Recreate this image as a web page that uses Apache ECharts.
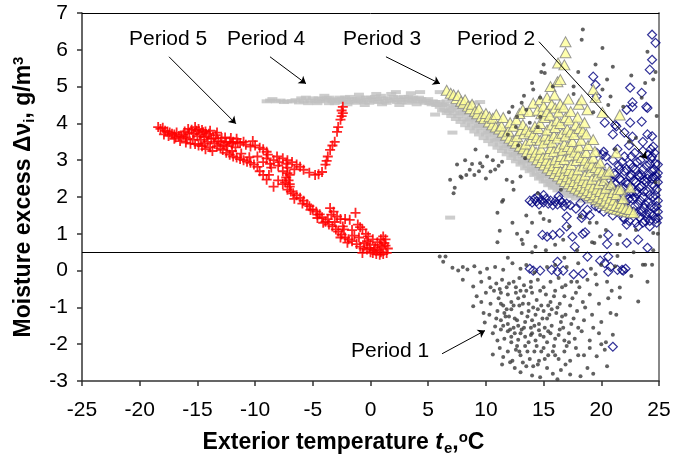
<!DOCTYPE html>
<html>
<head>
<meta charset="utf-8">
<script src="https://cdn.jsdelivr.net/npm/echarts@6/dist/echarts.min.js"></script>
<style>
  html, body { margin: 0; padding: 0; background: #fff; }
  #chart { width: 687px; height: 461px; }
</style>
</head>
<body>
<div id="chart"></div>
<script>
// axis ticks
var xTicks = [-25, -20, -15, -10, -5, 0, 5, 10, 15, 20, 25];
var yTicks = [-3, -2, -1, 0, 1, 2, 3, 4, 5, 6, 7];
var refLevel = 0.5;

// Period 1 - dark dots
var period1 = [
  [7.1,0.08],[7.6,0.0],[8.0,0.1],[8.4,0.03],[9.0,0.12],[9.5,-0.05],[10.1,0.05],[10.8,0.1],[11.5,0.02],[12.3,0.2],
  [13.0,0.05],[13.5,0.15],[14.2,-0.05],[15.3,0.1],[16.0,0.15],[17.0,0.1],[18.0,0.2],[19.1,0.05],[20.0,0.15],[21.2,0.12],
  [23.6,0.16],[24.4,0.16],[24.0,-0.3],[22.6,-0.15],
  [8.0,-0.25],[8.9,-0.43],[9.6,-0.3],[10.3,-0.2],[10.9,-0.35],[11.4,-0.25],[11.8,-0.45],[12.4,-0.3],[12.9,-0.2],[13.3,-0.4],
  [13.9,-0.3],[14.5,-0.25],[15.0,-0.45],[15.6,-0.3],[16.3,-0.2],[16.9,-0.4],[17.4,-0.3],[18.1,-0.45],[18.8,-0.25],[19.6,-0.38],
  [20.5,-0.3],[21.6,-0.46],[21.6,-0.73],[23.2,-0.84],
  [9.2,-0.7],[8.9,-0.97],[9.6,-0.85],[10.0,-0.6],[10.4,-0.9],[10.7,-0.55],[11.1,-0.75],[11.5,-0.95],[11.9,-0.65],[12.2,-0.85],
  [12.6,-0.6],[12.9,-0.95],[13.3,-0.7],[13.7,-0.9],[14.0,-0.6],[14.4,-0.8],[14.8,-0.95],[15.2,-0.65],[15.6,-0.85],[16.0,-0.55],
  [16.4,-0.9],[16.8,-0.7],[17.3,-0.95],[17.8,-0.6],[18.4,-0.85],[19.0,-0.65],[19.8,-0.9],[20.6,-0.75],[13.5,-0.55],[11.3,-0.6],[12.8,-0.75],
  [9.9,-1.41],[10.3,-1.2],[10.8,-1.52],[11.0,-1.1],[11.3,-1.35],[11.6,-1.15],[11.9,-1.45],[12.2,-1.05],[12.5,-1.3],[12.8,-1.5],
  [13.1,-1.15],[13.4,-1.4],[13.7,-1.1],[14.0,-1.35],[14.3,-1.2],[14.6,-1.45],[15.0,-1.1],[15.3,-1.3],[15.7,-1.5],[16.1,-1.15],
  [16.5,-1.4],[16.9,-1.2],[17.4,-1.45],[17.9,-1.1],[18.5,-1.35],[19.2,-1.2],[20.0,-1.4],[20.8,-1.15],[12.0,-1.25],[13.9,-1.55],[15.5,-1.2],
  [10.6,-1.7],[11.0,-1.9],[11.3,-1.6],[11.6,-1.85],[11.9,-1.65],[12.2,-1.95],[12.5,-1.7],[12.8,-1.88],[13.1,-1.6],[13.4,-1.8],
  [13.7,-1.95],[14.0,-1.7],[14.3,-1.9],[14.6,-1.62],[15.0,-1.8],[15.3,-1.95],[15.6,-1.7],[16.0,-1.85],[16.4,-1.6],[16.8,-1.9],
  [17.2,-1.7],[17.7,-1.85],[18.3,-1.65],[19.0,-1.9],[19.8,-1.7],[21.0,-1.74],[20.4,-1.95],
  [10.6,-2.28],[11.2,-2.1],[11.5,-2.35],[11.9,-2.2],[12.3,-2.45],[12.6,-2.15],[13.0,-2.3],[13.4,-2.05],[13.8,-2.4],[14.2,-2.2],
  [14.6,-2.45],[15.0,-2.1],[15.4,-2.3],[15.9,-2.05],[16.3,-2.4],[16.8,-2.2],[17.3,-2.45],[17.8,-2.1],[18.5,-2.3],[19.6,-2.33],
  [20.3,-2.15],[12.1,-2.49],[11.4,-2.55],
  [13.0,-2.76],[13.5,-2.6],[14.0,-2.85],[14.7,-2.9],[15.3,-2.65],[15.8,-2.8],[16.5,-2.7],[17.3,-2.82],[18.2,-2.87],[18.8,-2.65],
  [20.5,-2.6],[12.5,-2.65],[14.5,-2.55],[16.2,-2.95],
  [11.2,-0.5],[11.7,-1.25],[12.4,-1.55],[12.7,-2.05],[13.2,-0.9],[13.6,-1.25],[14.1,-1.0],[14.4,-2.05],[14.9,-1.3],[15.4,-0.95],
  [15.8,-2.2],[16.2,-1.0],[16.7,-1.55],[12.0,-0.35],[13.0,-1.7],[14.7,-1.75],[11.5,-1.5],[12.9,-2.2],[13.9,-0.45],[15.1,-2.4],
  [16.6,-0.45],[17.6,-1.3],[18.0,-2.3],[17.0,-2.05],
  [11.3,-0.9],[11.8,-1.05],[12.1,-1.6],[12.4,-0.95],[12.7,-1.35],[13.0,-0.55],[13.3,-1.55],[13.6,-2.2],[13.9,-1.75],[14.2,-1.5],
  [14.5,-1.05],[14.8,-2.2],[15.1,-1.55],[15.4,-1.65],[15.7,-1.05],[16.0,-2.3],[16.3,-1.75],[16.6,-1.25],[16.9,-2.55],[17.2,-1.95],
  [17.5,-0.75],[18.0,-1.55],[18.6,-1.0],[19.3,-1.55],[19.0,-2.1],[12.2,-1.8],[13.2,-2.5],[14.1,-2.6],[10.9,-1.3],[10.4,-0.45],
  [9.8,-1.15],[12.6,-0.45],[14.7,-0.55],[15.9,-0.7],[17.9,-0.3],[19.5,-0.1],[20.9,-0.55],[21.3,-1.2],[20.0,-2.0],[19.3,-2.8],
  [6.0,0.38],[6.5,0.38],[6.3,0.24],[11.0,0.77],[11.2,1.08],[13.2,0.72],[13.6,1.05],[11.9,0.35],[14.0,0.5],[15.2,0.55],
  [16.0,0.7],[16.8,0.35],[17.9,0.55],[19.4,0.75],[21.4,0.4],[22.8,0.5],[24.5,0.55],[23.0,1.1],[19.0,1.3],[17.2,1.2],
  [15.5,1.35],[14.0,1.3],[12.3,1.3],[13.1,0.84],[14.3,0.65],[16.7,0.84],[19.2,0.77],[19.9,0.93],[21.4,0.72],[21.6,0.97],
  [24.5,1.02],[23.8,0.16],
  [7.5,2.88],[6.9,2.47],[7.3,2.25],[8.6,2.74],[9.7,2.83],[10.6,3.0],[11.4,2.96],[9.1,3.29],[11.8,2.47],[13.0,2.56],
  [11.4,1.87],[11.0,1.57],[10.1,3.1],[10.4,2.69],[7.9,2.52],[8.3,2.6],[8.8,2.9],[9.4,2.7],[10.0,2.5],[10.8,2.75],
  [11.1,2.85],[9.0,2.6],[7.2,2.1],[12.4,2.2],[13.5,1.5],[12.7,1.0],[14.5,2.1],[7.8,2.56],[8.2,3.0],[9.5,2.92],
  [12.3,2.41],[11.5,1.92],[14.7,1.57],[18.2,1.47],
  [18.4,6.55],[18.3,6.27],[20.1,6.05],[24.0,5.95],[15.0,5.6],[14.8,5.4],[15.1,5.37],[14.0,5.1],[14.1,4.92],[14.7,4.7],
  [12.3,4.45],[13.1,4.56],[13.5,4.37],[12.7,4.18],[13.8,4.02],[15.8,5.0],[21.0,5.54],[20.5,5.19],[20.1,4.92],[24.7,5.4],
  [24.5,5.19],[21.9,4.45],[23.8,5.1],[23.5,4.7],[20.8,4.73],[13.3,4.75],[12.0,4.3],[17.6,5.0],[18.0,5.4],[19.5,5.6],
  [20.6,4.5],[22.6,5.3],[24.8,4.2],[22.4,3.5],[19.3,4.3],[17.6,4.8],[21.2,3.3],[23.0,3.6],[24.7,2.4],[24.9,1.0],
  [16.5,2.2],[19.6,1.3],[12.8,3.4],[13.4,3.05],[11.9,3.7],[14.5,3.9],[15.0,1.4],[20.4,1.1],[14.7,4.18],[12.6,3.9]
];

// Period 2 - open diamonds
var period2 = [
  [13.8,1.9],[14.0,1.85],[14.2,1.95],[14.4,1.88],[14.6,1.8],[14.8,1.92],[15.0,1.85],[15.2,1.95],[15.4,1.82],[15.6,1.9],
  [15.8,1.78],[16.0,1.88],[16.2,1.8],[16.4,1.92],[16.6,1.85],[16.8,1.75],[17.0,1.82],[17.3,1.78],[15.0,2.05],[14.5,2.02],[16.3,2.02],
  [14.9,0.97],[15.3,0.92],[15.8,0.97],[16.4,1.02],[17.5,0.92],[18.4,1.0],[17.7,0.65],[20.6,0.97],[20.5,0.72],[22.2,0.75],
  [23.2,0.84],[24.0,0.62],[18.8,0.38],[19.9,0.27],[20.6,0.38],[20.3,0.2],[20.8,0.1],[20.6,-0.03],[16.2,0.24],[13.8,0.05],
  [14.1,0.0],[14.7,0.0],[15.7,0.02],[16.2,-0.03],[16.7,0.0],[17.6,-0.1],[18.4,-0.08],[21.4,0.02],[21.8,0.02],[22.1,0.05],
  [21.9,0.0],[17.0,1.2],[18.6,1.04],[23.6,1.3],[21.0,-2.07],
  [19.6,2.4],[19.8,2.1],[20.0,2.6],[20.2,2.3],[20.3,1.95],[20.5,2.8],[20.6,2.5],[20.8,2.15],[20.9,1.8],[21.0,3.0],
  [21.1,2.65],[21.2,2.35],[21.3,2.0],[21.4,1.6],[21.5,2.85],[21.6,2.5],[21.7,2.2],[21.8,1.85],[21.9,1.45],[22.0,3.1],
  [22.0,2.7],[22.1,2.4],[22.2,2.05],[22.3,1.7],[22.4,1.35],[22.5,2.9],[22.5,2.55],[22.6,2.25],[22.7,1.95],[22.8,1.6],
  [22.9,3.2],[23.0,2.75],[23.0,2.4],[23.1,2.1],[23.2,1.8],[23.3,1.45],[23.4,3.0],[23.5,2.6],[23.5,2.3],[23.6,2.0],
  [23.7,1.7],[23.8,1.35],[23.9,2.85],[24.0,2.5],[24.0,2.15],[24.1,1.85],[24.2,1.55],[24.3,3.05],[24.4,2.7],[24.4,2.35],
  [24.5,2.0],[24.6,1.7],[24.7,1.4],[24.7,2.9],[24.8,2.55],[24.8,2.2],[24.9,1.9],[24.9,1.6],[24.9,2.88],[24.6,3.2],
  [24.3,3.3],[23.6,3.25],[22.4,3.4],[21.4,3.3],[20.4,3.1],[24.8,1.3],[24.2,1.2],[23.2,1.2],[22.2,1.25],[21.0,1.5],
  [20.2,1.6],[19.5,1.75],[18.8,1.65],[18.2,1.84],[19.0,1.5],[17.8,1.68],[18.4,1.52],[17.0,1.47],[18.3,1.43],[24.9,1.43],
  [21.8,2.95],[23.3,2.55],[24.2,2.9],[22.9,2.0],[23.9,1.55],[21.5,1.95],[22.6,2.6],[23.7,2.45],[24.5,2.55],[20.8,2.45],
  [20.0,1.85],[20.3,2.15],[20.5,2.45],[20.7,1.9],[20.9,2.3],[21.1,1.95],[21.2,2.6],[21.4,2.2],[21.5,1.75],[21.7,2.45],
  [21.8,2.05],[21.9,1.6],[22.0,2.25],[22.1,1.85],[22.2,2.75],[22.3,2.35],[22.4,1.95],[22.5,1.55],[22.6,2.1],[22.7,2.8],
  [22.8,2.45],[22.9,1.75],[23.0,2.15],[23.1,1.55],[23.2,2.6],[23.3,2.25],[23.4,1.9],[23.5,1.6],[23.6,2.75],[23.7,2.15],
  [23.8,1.8],[23.9,2.4],[24.0,1.45],[24.1,2.6],[24.2,2.05],[24.3,1.75],[24.4,2.5],[24.5,1.5],[24.6,2.3],[24.7,2.05],
  [24.8,1.75],[24.9,2.4],[24.6,2.75],[24.1,3.15],[23.1,2.95],[22.6,3.1],[21.6,2.75],[20.6,2.2],[20.1,2.0],[19.8,1.7],
  [21.2,1.8],[22.0,1.4],[23.0,1.3],[24.2,1.35],
  [19.3,5.27],[19.5,5.05],[22.5,4.97],[23.5,4.83],[22.7,4.45],[23.9,4.45],[23.5,4.05],[22.5,4.02],[20.3,4.02],[21.3,3.92],
  [21.0,3.7],[22.0,3.75],[22.7,3.64],[24.0,3.7],[19.6,3.2],[20.1,3.15],[24.5,3.37],[18.8,2.74],[24.4,3.1],[24.4,6.41],
  [24.7,6.19],[24.4,5.73],[24.2,5.46],[19.6,4.73],[22.7,4.57],[24.0,4.42],[21.2,3.96],[23.6,3.5],[19.6,2.83],[22.2,4.37],
  [24.4,3.65],[24.9,2.65],[20.2,3.23]
];

// Period 3 - yellow triangles
var period3 = [
  [6.6,4.9],[6.95,4.82],[7.2,4.78],[7.45,4.68],[7.6,4.76],[7.85,4.6],[8.05,4.55],[8.2,4.64],[8.45,4.47],[8.65,4.4],
  [8.8,4.52],[9.05,4.33],[9.25,4.26],[9.4,4.4],[9.6,4.18],[9.85,4.13],[10.0,4.27],[10.25,4.04],[10.3,4.18],[10.55,3.96],
  [10.6,4.14],[10.85,3.9],[10.9,4.24],[11.15,3.85],[11.45,3.76],[11.35,3.93],[11.5,4.16],[11.75,3.68],
  [12.05,3.6],[11.95,3.79],[12.1,4.02],[12.35,3.53],[12.4,3.92],[12.6,3.46],[12.7,3.64],
  [12.65,4.1],[12.95,3.38],[13.0,3.8],[12.9,4.27],[13.25,3.31],[13.3,3.72],[13.2,3.97],
  [13.2,4.37],[13.55,3.23],[13.45,3.44],[13.5,3.84],[13.85,3.16],[13.9,3.54],[13.8,3.77],
  [13.75,4.32],[14.15,3.09],[14.05,3.3],[14.1,3.7],[14.25,3.92],[14.1,4.55],[14.45,3.01],
  [14.35,3.22],[14.4,3.62],[14.55,3.86],[14.5,4.36],[14.75,2.94],[14.65,3.14],[14.8,3.3],[14.7,3.54],
  [14.7,4.0],[14.8,4.26],[14.7,4.64],[15.05,2.87],[14.95,3.07],[15.0,3.47],[15.15,3.66],
  [15.1,4.16],[15.0,4.47],[15.35,2.79],[15.25,3.0],[15.4,3.17],[15.45,3.57],[15.3,3.82],[15.3,4.32],
  [15.3,4.7],[15.65,2.72],[15.55,2.92],[15.6,3.32],[15.75,3.49],[15.7,3.96],[15.55,4.22],[15.7,4.52],
  [15.6,5.0],[15.95,2.64],[15.85,2.85],[16.0,3.01],[15.9,3.24],[15.9,3.67],[16.0,3.89],[16.0,4.42],
  [15.95,4.77],[16.25,2.57],[16.15,2.77],[16.3,2.94],[16.35,3.34],[16.2,3.6],[16.15,4.07],[16.3,4.31],
  [16.2,5.13],[16.25,5.64],[16.55,2.49],[16.45,2.7],[16.5,3.1],[16.65,3.27],[16.6,3.73],
  [16.45,4.0],[16.45,4.52],[16.45,5.19],[16.85,2.42],[16.75,2.62],[16.9,2.79],[16.8,3.02],[16.8,3.44],
  [16.9,3.66],[16.9,4.16],[16.75,4.44],[16.8,5.59],[16.9,5.92],[16.9,6.22],[17.15,2.36],[17.05,2.55],[17.2,2.72],
  [17.25,3.12],[17.1,3.37],[17.05,3.84],[17.2,4.09],[17.15,4.66],[17.45,2.29],[17.35,2.49],
  [17.5,2.65],[17.4,2.88],[17.4,3.3],[17.5,3.51],[17.35,3.77],[17.35,4.32],[17.75,2.24],[17.65,2.42],
  [17.8,2.59],[17.85,2.99],[17.7,3.22],[17.65,3.7],[17.8,3.96],[18.05,2.19],[17.95,2.36],
  [18.1,2.52],[18.0,2.74],[18.0,3.14],[18.1,3.36],[18.1,3.86],[17.95,4.17],[18.05,4.52],[18.35,2.14],
  [18.25,2.3],[18.4,2.45],[18.45,2.84],[18.3,3.07],[18.25,3.54],[18.4,3.79],[18.3,4.64],
  [18.65,2.09],[18.55,2.24],[18.7,2.39],[18.6,2.6],[18.6,3.0],[18.7,3.21],[18.7,3.71],[18.55,4.02],
  [18.8,4.37],[18.95,2.04],[18.85,2.18],[19.0,2.33],[19.05,2.69],[18.9,2.92],[18.85,3.4],
  [19.25,1.99],[19.15,2.12],[19.3,2.27],[19.2,2.48],[19.2,2.87],[19.3,3.06],[19.3,3.56],[19.3,4.92],
  [19.55,1.93],[19.45,2.06],[19.6,2.21],[19.65,2.57],[19.5,2.8],[19.45,3.24],[19.5,4.7],[19.85,1.87],
  [19.75,2.0],[19.9,2.15],[19.8,2.36],[19.8,2.74],[19.9,2.93],[20.15,1.82],[20.05,1.95],[20.2,2.09],
  [20.25,2.45],[20.1,2.67],[20.1,4.3],[20.45,1.77],[20.35,1.89],[20.5,2.03],[20.4,2.24],
  [20.4,2.62],[20.75,1.72],[20.65,1.84],[20.8,1.97],[20.85,2.34],[20.7,2.7],[21.05,1.69],[20.95,1.8],
  [21.1,1.92],[21.0,2.12],[21.35,1.66],[21.25,1.77],[21.3,2.07],[21.45,2.2],[21.3,3.2],[21.65,1.64],
  [21.55,1.74],[21.7,1.83],[21.7,2.2],[21.6,4.23],[21.95,1.62],[21.85,1.72],[21.9,1.96],[22.25,1.6],
  [22.15,1.69],[22.55,1.58],[22.45,1.66],[22.5,2.25],[22.8,1.57]
];

// Period 4 - grey dashes
var period4 = [
  [-8.7,4.62],[-8.2,4.6],[-7.8,4.62],[-7.2,4.6],[-6.5,4.63],[-6.0,4.68],[-5.6,4.7],[-5.2,4.62],[-4.8,4.6],[-4.5,4.68],
  [-4.2,4.66],[-3.9,4.62],[-3.6,4.7],[-3.3,4.6],[-3.0,4.65],[-2.7,4.7],[-2.4,4.58],[-2.1,4.64],[-1.8,4.72],[-1.5,4.6],
  [-1.2,4.66],[-0.9,4.7],[-0.6,4.58],[-0.3,4.64],[0.0,4.7],[0.3,4.6],[0.6,4.66],[0.9,4.75],[1.2,4.6],[1.5,4.68],
  [1.8,4.8],[2.1,4.62],[2.4,4.7],[2.7,4.58],[3.0,4.66],[3.3,4.72],[3.6,4.6],[3.9,4.66],[4.2,4.7],[4.5,4.6],
  [4.8,4.62],[5.1,4.55],[5.4,4.6],[5.7,4.5],[-3.6,4.55],[-2.0,4.52],[-0.5,4.5],[1.0,4.52],[2.5,4.5],[4.0,4.52],
  [3.5,4.82],[2.2,4.85],[0.5,4.8],[-1.0,4.78],[-4.0,4.75],
  [-8.5,4.66],[-7.5,4.58],[-6.8,4.6],[-6.2,4.57],[-5.8,4.6],[-5.4,4.55],[-5.0,4.68],[-4.6,4.55],[-4.4,4.6],[-3.8,4.68],
  [-3.4,4.65],[-3.1,4.55],[-2.8,4.6],[-2.5,4.66],[-2.2,4.7],[-1.9,4.58],[-1.6,4.66],[-1.3,4.56],[-1.1,4.62],[-0.8,4.6],
  [-0.4,4.7],[-0.1,4.56],[0.2,4.66],[0.4,4.72],[0.7,4.58],[1.1,4.68],[1.4,4.56],[1.7,4.62],[2.0,4.72],[2.3,4.58],
  [2.6,4.64],[2.9,4.72],[3.2,4.56],[3.4,4.64],[3.7,4.7],[4.1,4.6],[4.4,4.66],[4.7,4.56],[5.0,4.66],[5.3,4.52],
  [5.6,4.58],[5.9,4.52],[-9.0,4.6],
  [6.0,4.58],[6.0,4.45],[6.4,4.52],[6.4,4.38],[6.8,4.48],[6.8,4.33],[7.2,4.43],[7.2,4.28],[7.6,4.37],[7.6,4.2],
  [8.0,4.3],[8.0,4.12],[8.4,4.22],[8.4,4.05],[8.8,4.14],[8.8,3.97],[9.2,4.05],[9.2,3.88],[9.6,3.97],[9.6,3.8],
  [10.0,3.88],[10.0,3.7],[10.4,3.8],[10.4,3.62],[10.8,3.7],[10.8,3.53],[11.2,3.6],[11.2,3.43],[11.6,3.5],[11.6,3.33],
  [12.0,3.4],[12.0,3.23],[12.4,3.3],[12.4,3.13],[12.8,3.2],[12.8,3.03],[13.2,3.1],[13.2,2.93],[13.6,3.0],[13.6,2.83],
  [14.0,2.9],[14.0,2.73],[14.4,2.8],[14.4,2.63],[14.8,2.7],[14.8,2.53],[15.2,2.6],[15.2,2.43],[15.6,2.5],[15.6,2.35],
  [16.0,2.42],[16.0,2.28],[16.5,2.32],[16.5,2.2],[17.0,2.25],[17.0,2.12],[17.5,2.18],[17.5,2.05],[18.0,2.1],[18.5,2.04],
  [19.0,1.98],[19.5,1.92],[20.0,1.88],[20.5,1.82],[21.0,1.78],[21.5,1.74],[22.0,1.7],
  [6.2,4.5],[7.0,4.38],[7.8,4.27],[8.6,4.1],[9.4,3.93],[10.2,3.75],[11.0,3.56],[11.8,3.37],[12.6,3.17],[13.4,2.97],
  [14.2,2.77],[15.0,2.57],[15.8,2.4],
  [6.2,4.35],[6.6,4.28],[7.0,4.2],[7.4,4.12],[7.8,4.04],[8.2,3.95],[8.6,3.87],[9.0,3.78],[9.4,3.7],[9.8,3.6],
  [10.2,3.52],[10.6,3.43],[11.0,3.34],[11.4,3.25],[11.8,3.16],[12.2,3.06],[12.6,2.97],[13.0,2.88],[13.4,2.78],[13.8,2.7],
  [14.2,2.6],[14.6,2.5],[15.0,2.42],[15.4,2.32],[15.8,2.25],[16.2,2.18],[16.7,2.1],[17.2,2.02],[17.8,1.96],[18.4,1.9],
  [19.0,1.86],[19.6,1.8],[20.2,1.75],[20.8,1.7],[21.4,1.66],
  [6.6,4.6],[7.4,4.5],[8.2,4.38],[9.0,4.2],[9.8,4.05],[10.6,3.88],[11.4,3.68],[12.2,3.48],[13.0,3.28],[13.8,3.08],
  [14.6,2.88],[15.4,2.7],[16.2,2.55],[17.2,2.38],
  [4.3,4.85],[5.6,4.24],[7.1,3.75],[6.9,1.44],[8.9,4.56],[9.5,4.58],[6.0,4.85]
];

// Period 5 - red crosses
var period5 = [
  [-18.4,3.9],[-18.2,3.85],[-18.0,3.88],[-17.8,3.8],[-17.6,3.78],[-17.4,3.75],[-17.2,3.72],[-17.0,3.7],[-16.8,3.75],[-16.6,3.66],
  [-16.4,3.64],[-16.2,3.7],[-16.0,3.62],[-15.9,3.58],[-15.7,3.75],[-15.5,3.83],[-15.4,3.56],[-15.3,3.72],[-15.1,3.8],[-15.0,3.65],
  [-14.8,3.7],[-14.7,3.55],[-14.5,3.76],[-14.4,3.62],[-14.2,3.65],[-14.1,3.5],[-14.0,3.72],[-13.8,3.58],[-13.6,3.6],[-13.5,3.45],
  [-13.4,3.68],[-13.2,3.52],[-13.0,3.5],[-12.9,3.6],[-12.7,3.42],[-12.5,3.47],[-12.4,3.38],[-12.2,3.5],[-12.0,3.45],[-11.9,3.5],
  [-11.7,3.35],[-11.5,3.48],[-11.3,3.47],[-11.0,3.5],[-10.8,3.42],[-10.4,3.37],[-10.0,3.4],[-9.6,3.34],[-9.3,3.3],[-9.0,3.23],
  [-13.0,3.32],[-12.8,3.28],[-12.5,3.2],[-12.2,3.15],[-11.9,3.1],[-11.6,3.07],[-11.3,3.03],[-11.0,3.0],[-10.7,2.96],[-10.4,2.93],
  [-10.1,2.88],[-9.8,2.82],[-9.6,2.7],[-9.3,2.6],[-9.0,2.47],[-8.4,2.28],
  [-17.9,3.7],[-17.5,3.66],[-17.0,3.58],[-16.5,3.52],[-16.0,3.48],[-15.6,3.45],[-15.2,3.44],[-14.9,3.4],[-14.6,3.38],[-14.3,3.3],
  [-13.9,3.35],[-13.3,3.38],[-15.8,3.85],[-15.2,3.9],[-14.9,3.85],[-14.6,3.82],[-14.3,3.78],[-13.9,3.8],[-13.3,3.75],[-12.6,3.62],
  [-12.1,3.6],[-11.6,3.58],[-16.9,3.62],[-16.1,3.78],[-14.4,3.45],[-13.7,3.25],[-12.0,3.25],[-11.2,3.18],[-10.5,3.08],[-10.2,3.52],
  [-9.8,3.1],[-8.9,3.15],[-8.6,2.8],[-8.0,2.85],[-7.6,2.7],[-7.0,2.6],[-6.6,2.75],
  [-9.3,2.95],[-9.0,3.05],[-8.7,2.9],[-8.4,3.0],[-8.1,3.1],[-7.9,2.95],[-7.6,3.05],[-7.3,2.9],[-7.2,2.8],[-7.2,2.65],
  [-7.3,2.53],[-7.4,2.4],[-7.1,2.45],
  [-7.2,3.0],[-6.8,2.95],[-6.4,2.88],[-6.1,2.82],[-5.8,2.74],[-5.3,2.66],[-4.8,2.6],[-4.5,2.62],[-4.2,2.68],[-3.9,2.88],
  [-3.8,2.98],[-3.7,3.1],[-3.5,3.28],[-3.3,3.4],[-3.1,3.5],[-2.9,3.77],[-2.8,3.9],[-2.6,4.1],[-2.5,4.2],[-2.4,4.28],
  [-2.4,4.45],[-2.5,4.35],
  [-7.2,2.2],[-6.9,2.15],[-6.7,2.1],[-6.4,2.05],[-6.1,1.98],[-5.8,1.9],[-5.5,1.8],[-5.3,1.75],[-5.0,1.66],[-4.7,1.6],
  [-4.4,1.53],[-4.2,1.45],[-3.9,1.33],[-3.6,1.25],[-3.3,1.2],[-3.0,1.12],[-2.8,1.06],[-2.5,0.98],[-2.2,0.9],[-1.9,0.85],
  [-1.6,0.8],[-1.2,0.72],[-0.9,0.65],[-0.6,0.6],[-0.3,0.57],[0.0,0.5],[0.2,0.48],[0.5,0.45],[0.8,0.43],[1.1,0.45],[1.4,0.48],
  [-4.6,1.43],[-4.1,1.3],[-3.5,1.7],[-3.2,1.6],[-2.9,1.47],[-2.6,1.4],[-2.2,1.4],[-1.8,1.38],[-1.3,1.57],[-1.1,1.25],
  [-0.9,1.18],[-0.7,1.12],[-0.4,1.0],[-0.2,0.93],[0.2,0.85],[0.6,0.77],[0.9,0.85],[1.1,0.93],[1.3,0.85],[1.0,0.65],
  [0.0,0.7],[-0.7,0.48],[0.6,0.57],[-2.6,0.9],[-2.0,0.76],[0.4,0.62],[0.8,0.7],[1.2,0.75],[-0.3,0.8],
  [-6.6,1.95],[-5.9,1.82],[-5.2,1.65],[-4.6,1.52],[-3.7,1.4],[-3.4,1.52],[-2.4,1.2],[-1.6,1.1],[-1.0,0.9],[-0.5,0.75],
  [0.3,0.55],[0.9,0.5],[1.5,0.6],[1.3,0.68],[-0.1,0.62],[-1.4,0.95],[-2.3,1.12],[-3.1,1.32],[-7.0,2.28],[-7.6,2.35],
  [-8.0,2.45],[-8.8,2.6],[-7.0,2.35]
];

// annotation arrows: [x1, y1, x2, y2] in data units
var arrows = [
  [-17.46, 5.81, -11.66, 3.99],
  [-8.71, 5.81, -5.59, 5.08],
  [1.34, 5.81, 6.02, 5.08],
  [14.6, 6.22, 23.96, 3.04],
  [6.2, -2.26, 9.92, -1.63]
];

var fontFam = '"Liberation Sans", Arial, sans-serif';

function periodLabel(text, x, y) {
    return {
        type: 'text',
        left: x,
        top: y,
        z: 100,
        style: {
            text: text,
            font: '21px ' + fontFam,
            fill: '#000'
        }
    };
}

function drawChart() {
    var chart = echarts.init(document.getElementById('chart'));

    var markLines = [
        [{coord: [-25, refLevel], symbol: 'none'}, {coord: [25, refLevel], symbol: 'none'}]
    ];
    for (var i = 0; i < arrows.length; i++) {
        var a = arrows[i];
        markLines.push([{coord: [a[0], a[1]]}, {coord: [a[2], a[3]]}]);
    }

    var option = {
        animation: false,
        grid: {
            left: 82,
            right: 28,
            top: 13,
            bottom: 80,
            outerBoundsMode: 'none'
        },
        xAxis: [{
            type: 'value',
            min: -25,
            max: 25,
            interval: 5,
            position: 'bottom',
            name: '{b|Exterior temperature }{i|t}{sub|e}{b|,}{sup|o}{b|C}',
            nameLocation: 'middle',
            nameGap: 48,
            nameTextStyle: {
                padding: [0, 54, 0, 0],
                rich: {
                    b: {fontSize: 23, fontWeight: 'bold', fontFamily: fontFam, color: '#000'},
                    i: {fontSize: 23, fontWeight: 'bold', fontStyle: 'italic', fontFamily: fontFam, color: '#000'},
                    sub: {fontSize: 15, fontWeight: 'bold', fontFamily: fontFam, color: '#000', padding: [12, 0, 0, 1]},
                    sup: {fontSize: 15, fontWeight: 'bold', fontFamily: fontFam, color: '#000', padding: [0, 0, 10, 0]}
                }
            },
            axisLine: {show: true, onZero: false, lineStyle: {color: '#333', width: 1.5}},
            axisTick: {show: true, length: 5, lineStyle: {color: '#333', width: 1.5}},
            axisLabel: {
                margin: 19,
                fontSize: 21,
                fontFamily: fontFam,
                color: '#000',
                formatter: function (v) { return xTicks.indexOf(v) >= 0 ? String(v) : ''; }
            },
            splitLine: {show: false}
        }, {
            type: 'value',
            min: -25,
            max: 25,
            position: 'top',
            axisLine: {show: true, onZero: false, lineStyle: {color: '#000', width: 1}},
            axisTick: {show: false},
            axisLabel: {show: false},
            splitLine: {show: false}
        }],
        yAxis: [{
            type: 'value',
            min: -3,
            max: 7,
            interval: 1,
            name: '{b|Moisture excess \u0394\u03bd}{sub|i}{b|, g/m}{sup|3}',
            nameLocation: 'middle',
            nameGap: 45,
            nameTextStyle: {
                rich: {
                    b: {fontSize: 23, fontWeight: 'bold', fontFamily: fontFam, color: '#000'},
                    sub: {fontSize: 15, fontWeight: 'bold', fontFamily: fontFam, color: '#000', padding: [12, 0, 0, 0]},
                    sup: {fontSize: 15, fontWeight: 'bold', fontFamily: fontFam, color: '#000', padding: [0, 0, 10, 0]}
                }
            },
            axisLine: {show: true, onZero: false, lineStyle: {color: '#333', width: 1.5}},
            axisTick: {show: true, length: 5, lineStyle: {color: '#333', width: 1.5}},
            axisLabel: {
                margin: 14,
                fontSize: 21,
                fontFamily: fontFam,
                color: '#000',
                formatter: function (v) { return yTicks.indexOf(v) >= 0 ? String(v) : ''; }
            },
            splitLine: {show: false}
        }, {
            type: 'value',
            min: -3,
            max: 7,
            position: 'right',
            axisLine: {show: true, onZero: false, lineStyle: {color: '#888', width: 2}},
            axisTick: {show: false},
            axisLabel: {show: false},
            splitLine: {show: false}
        }],
        series: [
            {
                name: 'Period 4',
                type: 'scatter',
                data: period4,
                symbol: 'rect',
                symbolSize: [10, 4],
                itemStyle: {color: '#C0C0C0'},
                z: 2
            },
            {
                name: 'Period 2',
                type: 'scatter',
                data: period2,
                symbol: 'diamond',
                symbolSize: 9,
                itemStyle: {color: 'rgba(0,0,0,0)', borderColor: '#000080', borderWidth: 1.2},
                z: 3
            },
            {
                name: 'Period 3',
                type: 'scatter',
                data: period3,
                symbol: 'triangle',
                symbolSize: [11, 10],
                itemStyle: {color: '#FFFF99', borderColor: '#808080', borderWidth: 1},
                z: 4
            },
            {
                name: 'Period 1',
                type: 'scatter',
                data: period1,
                symbol: 'circle',
                symbolSize: 4,
                itemStyle: {color: '#3a3a3a'},
                z: 5
            },
            {
                name: 'Period 5',
                type: 'scatter',
                data: period5,
                symbol: 'path://M4.1,0H5.9V4.1H10V5.9H5.9V10H4.1V5.9H0V4.1H4.1Z',
                symbolSize: 10,
                itemStyle: {color: '#FF0000', opacity: 0.85},
                z: 6
            },
            {
                name: 'annot',
                type: 'scatter',
                data: [],
                z: 10,
                markLine: {
                    silent: true,
                    symbol: ['none', 'arrow'],
                    symbolSize: 7,
                    label: {show: false},
                    lineStyle: {color: '#000', width: 1, type: 'solid'},
                    data: markLines
                }
            }
        ],
        graphic: [
            periodLabel('Period 5', 129, 29),
            periodLabel('Period 4', 227, 29),
            periodLabel('Period 3', 343, 29),
            periodLabel('Period 2', 457, 29),
            periodLabel('Period 1', 351, 341)
        ]
    };

    chart.clear();
    chart.setOption(option);
}

drawChart();
</script>
</body>
</html>
